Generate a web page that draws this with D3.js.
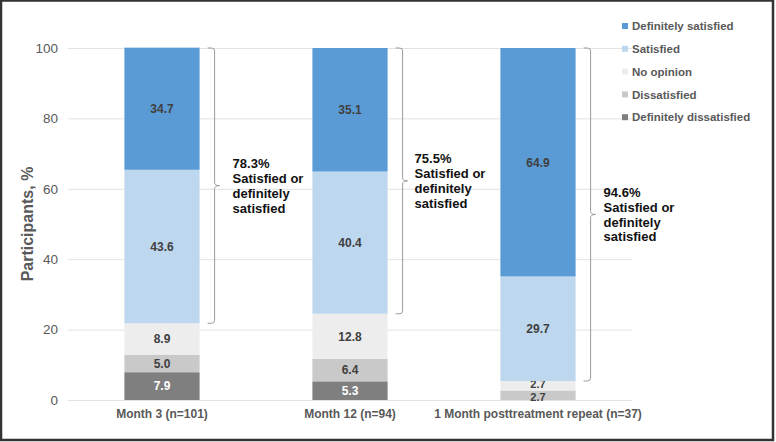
<!DOCTYPE html>
<html><head><meta charset="utf-8">
<script src="https://cdn.jsdelivr.net/npm/d3@7"></script>
<style>body{margin:0;background:#fff}svg{display:block;font-family:"Liberation Sans",Arial,sans-serif}</style>
</head><body><svg id="c" width="776" height="442"></svg>
<script>
const categories = ["Month 3 (n=101)", "Month 12 (n=94)", "1 Month posttreatment repeat (n=37)"];
const seriesNames = ["Definitely dissatisfied", "Dissatisfied", "No opinion", "Satisfied", "Definitely satisfied"];
const defDissatisfied = [7.9, 5.3, 0];
const dissatisfied = [5.0, 6.4, 2.7];
const noOpinion = [8.9, 12.8, 2.7];
const satisfied = [43.6, 40.4, 29.7];
const defSatisfied = [34.7, 35.1, 64.9];
const satisfiedTotals = ["78.3%", "75.5%", "94.6%"];
const yTicks = [0, 20, 40, 60, 80, 100];
const colors = ["#7f7f7f", "#c9c9c9", "#ededed", "#bdd7ee", "#5b9bd5"];

const svg = d3.select("#c");
const seriesVals = [defDissatisfied, dissatisfied, noOpinion, satisfied, defSatisfied];
const rows = categories.map((c, i) => {
  const r = {cat: c};
  seriesNames.forEach((s, k) => r[s] = seriesVals[k][i]);
  return r;
});
const stack = d3.stack().keys(seriesNames)(rows);

const x = d3.scaleBand().domain(categories).range([68, 632]).paddingInner(0.6).paddingOuter(0.3);
const y = d3.scaleLinear().domain([0, 100]).range([400, 48]);

// gridlines
svg.append("g").selectAll("line").data(yTicks).join("line")
  .attr("x1", 68).attr("x2", 632)
  .attr("y1", d => y(d) + 0.5).attr("y2", d => y(d) + 0.5)
  .attr("stroke", "#e2e2e2").attr("stroke-width", 1);

// y axis labels
const yAxis = svg.append("g").attr("transform", "translate(64,0)")
  .call(d3.axisLeft(y).tickValues(yTicks).tickSize(0).tickPadding(6));
yAxis.select(".domain").remove();
yAxis.selectAll("text").attr("font-size", 13.5).attr("fill", "#595959")
  .attr("font-family", "Liberation Sans, Arial, sans-serif");

svg.append("text").attr("transform", "translate(27,224) rotate(-90)")
  .attr("dy", "0.36em")
  .attr("text-anchor", "middle").attr("font-size", 16).attr("font-weight", "bold")
  .attr("fill", "#595959").text("Participants, %");

// bars
stack.forEach((layer, k) => {
  const g = svg.append("g");
  g.selectAll("rect").data(layer).join("rect")
    .attr("x", d => x(d.data.cat)).attr("width", x.bandwidth())
    .attr("y", d => y(d[1])).attr("height", d => y(d[0]) - y(d[1]))
    .attr("fill", colors[k]);
  g.selectAll("text").data(layer.filter(d => d[1] - d[0] > 0)).join("text")
    .attr("x", d => x(d.data.cat) + x.bandwidth() / 2)
    .attr("y", d => {
      const h = y(d[0]) - y(d[1]);
      const nudge = h < 12 ? (k === 1 ? 2 : -2) : 0;
      return y((d[0] + d[1]) / 2) + nudge;
    })
    .attr("dy", "0.36em")
    .attr("text-anchor", "middle")
    .attr("font-size", d => (y(d[0]) - y(d[1]) < 12 ? 11 : 12))
    .attr("font-weight", "bold")
    .attr("fill", k === 0 ? "#ffffff" : "#404040")
    .text(d => (d[1] - d[0]).toFixed(1));
});

// x axis labels
const xAxis = svg.append("g").attr("transform", "translate(0,400)")
  .call(d3.axisBottom(x).tickSize(0).tickPadding(9));
xAxis.select(".domain").remove();
xAxis.selectAll("text").attr("font-size", 12).attr("font-weight", "bold").attr("fill", "#595959")
  .attr("font-family", "Liberation Sans, Arial, sans-serif");

// braces
const satLayer = stack[3];
const textOffsets = [33, 27, 28];
categories.forEach((c, i) => {
  const bx = x(c) + x.bandwidth();
  const top = y(100), bot = y(satLayer[i][0]);
  const mid = (top + bot) / 2;
  const xl = bx + 8, xv = bx + 15, xt = bx + 20, r = 3;
  const p = `M${xl},${top} L${xv - r},${top} Q${xv},${top} ${xv},${top + r} L${xv},${mid - r} Q${xv},${mid} ${xt},${mid} Q${xv},${mid} ${xv},${mid + r} L${xv},${bot - r} Q${xv},${bot} ${xv - r},${bot} L${xl},${bot}`;
  svg.append("path").attr("d", p).attr("fill", "none").attr("stroke", "#9a9a9a").attr("stroke-width", 1);
  const lines = [satisfiedTotals[i], "Satisfied or", "definitely", "satisfied"];
  const tx = bx + textOffsets[i];
  const t = svg.append("text").attr("x", tx).attr("font-size", 13).attr("font-weight", "bold").attr("fill", "#111");
  lines.forEach((l, j) => {
    t.append("tspan").attr("x", tx).attr("y", mid + (j - 1.5) * 14.8).attr("dy", "0.36em").text(l);
  });
});

// legend
const legendOrder = [4, 3, 2, 1, 0];
const lg = svg.append("g");
legendOrder.forEach((k, j) => {
  const ly = 26 + j * 22.8;
  lg.append("rect").attr("x", 622).attr("y", ly - 3).attr("width", 6).attr("height", 6).attr("fill", colors[k]);
  lg.append("text").attr("x", 632).attr("y", ly).attr("dy", "0.36em").attr("font-size", 11.5)
    .attr("font-weight", "bold").attr("fill", "#595959").text(seriesNames[k]);
});

// frame
svg.append("rect").attr("x", 1).attr("y", 0.5).attr("width", 772).attr("height", 439.5)
  .attr("fill", "none").attr("stroke", "#333").attr("stroke-width", 2.5);
</script></body></html>
